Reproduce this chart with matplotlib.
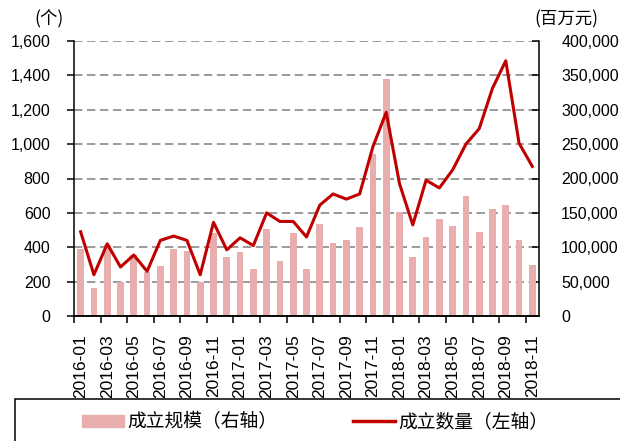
import matplotlib
matplotlib.use('Agg')
from matplotlib import pyplot as plt
from matplotlib.patches import Rectangle
from matplotlib.lines import Line2D
from matplotlib.ticker import FuncFormatter

plt.rcParams['font.family'] = ['Liberation Sans', 'Noto Sans CJK SC']

# monthly data, 2016-01 .. 2018-11
months = ['2016-01', '2016-02', '2016-03', '2016-04', '2016-05', '2016-06',
          '2016-07', '2016-08', '2016-09', '2016-10', '2016-11', '2016-12',
          '2017-01', '2017-02', '2017-03', '2017-04', '2017-05', '2017-06',
          '2017-07', '2017-08', '2017-09', '2017-10', '2017-11', '2017-12',
          '2018-01', '2018-02', '2018-03', '2018-04', '2018-05', '2018-06',
          '2018-07', '2018-08', '2018-09', '2018-10', '2018-11']
# 成立规模 (百万元, right axis)
scale = [97400, 41200, 103000, 49900, 88700, 64500, 72700, 97400, 95000, 49900,
         120200, 86300, 93100, 68400, 127000, 79500, 120200, 68400, 133800, 106700,
         111000, 129000, 235600, 344200, 151700, 86300, 115400, 140600, 131400, 174500,
         122700, 156100, 161000, 111000, 74700]
# 成立数量 (个, left axis)
count = [490, 240, 420, 285, 355, 260, 440, 465, 440, 240,
         545, 385, 455, 410, 600, 550, 550, 460, 645, 710,
         680, 710, 985, 1185, 770, 530, 790, 745, 850, 1000,
         1090, 1325, 1485, 1005, 870]

bar_color = '#E8AEAE'
line_color = '#C00000'

fig = plt.figure(figsize=(6.2, 4.41), dpi=100)
ax = fig.add_axes([74/620, 1-316/441, (539-74)/620, (316-41)/441])
ax2 = ax.twinx()
ax.set_zorder(ax2.get_zorder() + 1)
ax.patch.set_visible(False)

x = list(range(len(months)))

# bars + grid on right axis
ax2.bar(x, scale, width=0.5, color=bar_color, zorder=2)
ax2.set_ylim(0, 400000)
ax2.set_yticks(range(0, 400001, 50000))
ax2.yaxis.set_major_formatter(FuncFormatter(lambda v, p: '{:,.0f}'.format(v)))
ax2.yaxis.grid(True, color='#808080', lw=1.1, ls=(0, (5.5, 3)))
ax2.set_axisbelow(True)
ax2.tick_params(axis='y', direction='in', length=5, width=1.1, pad=16, labelsize=11.5)

# line on left axis
ax.plot(x, count, color=line_color, lw=2.2)
ax.set_ylim(0, 1600)
ax.set_yticks(range(0, 1601, 200))
ax.yaxis.set_major_formatter(FuncFormatter(lambda v, p: '{:,.0f}'.format(v)))
ax.tick_params(axis='y', direction='out', length=5, width=1.1, pad=12, labelsize=11.5)

ax.set_xlim(-0.5, len(months) - 0.5)
ax.set_xticks(x[::2])
ax.set_xticklabels(months[::2], rotation=90)
ax.tick_params(axis='x', which='major', length=0, pad=13, labelsize=12.5)
ax.set_xticks([i - 0.5 for i in x[::2]], minor=True)
ax.tick_params(axis='x', which='minor', direction='out', length=5, width=1.1)

for a in (ax, ax2):
    a.spines['top'].set_visible(False)
    for s in ('left', 'right', 'bottom'):
        a.spines[s].set_linewidth(1.1)
ax.spines['right'].set_visible(False)
ax2.spines['left'].set_visible(False)

fig.text(49/620, 1-19/441, '(个)', ha='center', va='center', fontsize=12.5,
         family=['Noto Sans CJK SC'])
fig.text(566/620, 1-19/441, '(百万元)', ha='center', va='center', fontsize=12.5,
         family=['Noto Sans CJK SC'])

# legend box runs off the bottom/right edge
fig.add_artist(Rectangle((15/620, -0.1), 1.0, 0.1 + 1 - 399/441, transform=fig.transFigure,
                         fill=False, ec='black', lw=1.1, clip_on=False))
handles = [Rectangle((0, 0), 1, 1, color=bar_color),
           Line2D([0], [0], color=line_color, lw=2.5)]
fig.legend(handles, ['成立规模（右轴）', '成立数量（左轴）'], loc='center',
           bbox_to_anchor=(315/620, 1-422/441), ncol=2, frameon=False,
           prop={'family': ['Noto Sans CJK SC'], 'size': 13.5},
           handlelength=2.25, handleheight=0.55, handletextpad=0.2, columnspacing=4.0)

fig.savefig('out.png', dpi=100)
